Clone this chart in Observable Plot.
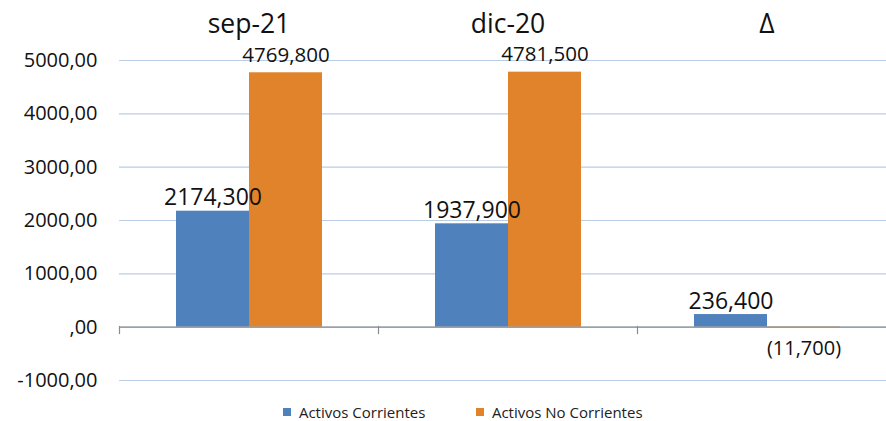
<!DOCTYPE html>
<html>
<head>
<meta charset="utf-8">
<script src="https://cdn.jsdelivr.net/npm/d3@7"></script>
<script src="https://cdn.jsdelivr.net/npm/@observablehq/plot@0.6"></script>
<style>
  body { margin: 0; background: #fff; font-family: "Open Sans", sans-serif; width: 886px; height: 421px; }
  #chart { width: 886px; height: 395px; }
  #legend { margin-top: 8px; margin-left: 55px; height: 18px; display: flex; justify-content: center; align-items: center; }
</style>
</head>
<body>
<div id="chart"></div>
<div id="legend"></div>
<script>
const categories = ["sep-21", "dic-20", "Δ"];
const series = ["Activos Corrientes", "Activos No Corrientes"];
const corrientes = [2174.3, 1937.9, 236.4];
const noCorrientes = [4769.8, 4781.5, -11.7];
const colors = ["#4F81BD", "#E0832A"];
const yTicks = [-1000, 0, 1000, 2000, 3000, 4000, 5000];

const data = categories.flatMap((c, i) => [
  {cat: c, series: series[0], value: corrientes[i]},
  {cat: c, series: series[1], value: noCorrientes[i]}
]);

const fmtTick = d => d === 0 ? ",00" : d.toFixed(2).replace(".", ",");
const fmtLabel = d => {
  const s = Math.abs(d).toFixed(3).replace(".", ",");
  return d < 0 ? "(" + s + ")" : s;
};

const pos = data.filter(d => d.value >= 0);
const neg = data.filter(d => d.value < 0);

const chart = Plot.plot({
  width: 886,
  height: 395,
  marginLeft: 118,
  marginRight: -11,
  marginTop: 60,
  marginBottom: 15,
  style: {fontFamily: "Open Sans, sans-serif", fontSize: "19px", color: "#111"},
  fx: {domain: categories, padding: 0, label: null},
  x: {domain: series, paddingInner: 0, paddingOuter: 0.757, axis: null},
  y: {domain: [-1000, 5000], label: null},
  color: {domain: series, range: colors},
  marks: [
    Plot.gridY(yTicks, {stroke: "#B9CDE5", strokeOpacity: 1, strokeWidth: 1.2}),
    Plot.axisY(yTicks, {tickFormat: fmtTick, tickSize: 0, tickPadding: 22, fontSize: 20, label: null}),
    Plot.axisFx({anchor: "top", tickSize: 0, tickPadding: 28, fontSize: 26.5, label: null}),
    Plot.barY(data, {fx: "cat", x: "series", y: "value", fill: "series"}),
    Plot.ruleY([0], {stroke: "#8C8C8C", strokeWidth: 1.2}),
    Plot.frame({anchor: "left", stroke: "#8C8C8C", strokeWidth: 1.2, insetTop: 266, insetBottom: 47}),
    Plot.text(pos.filter(d => d.series === series[0]), {fx: "cat", x: "series", y: "value", text: d => fmtLabel(d.value), lineAnchor: "bottom", dy: -6, fontSize: 23, fill: "#111"}),
    Plot.text(pos.filter(d => d.series === series[1]), {fx: "cat", x: "series", y: "value", text: d => fmtLabel(d.value), lineAnchor: "bottom", dy: -11, fontSize: 20.5, fill: "#111"}),
    Plot.text(neg, {fx: "cat", x: "series", y: "value", text: d => fmtLabel(d.value), lineAnchor: "top", dy: 13, fontSize: 20, fill: "#111"})
  ]
});
document.getElementById("chart").appendChild(chart);

const legend = Plot.legend({
  color: {domain: series, range: colors},
  swatchSize: 8,
  style: {fontFamily: "Open Sans, sans-serif", fontSize: "15px", color: "#222", gap: "36px", minHeight: "0", margin: "0", lineHeight: "18px"}
});
document.getElementById("legend").appendChild(legend);
</script>
</body>
</html>
